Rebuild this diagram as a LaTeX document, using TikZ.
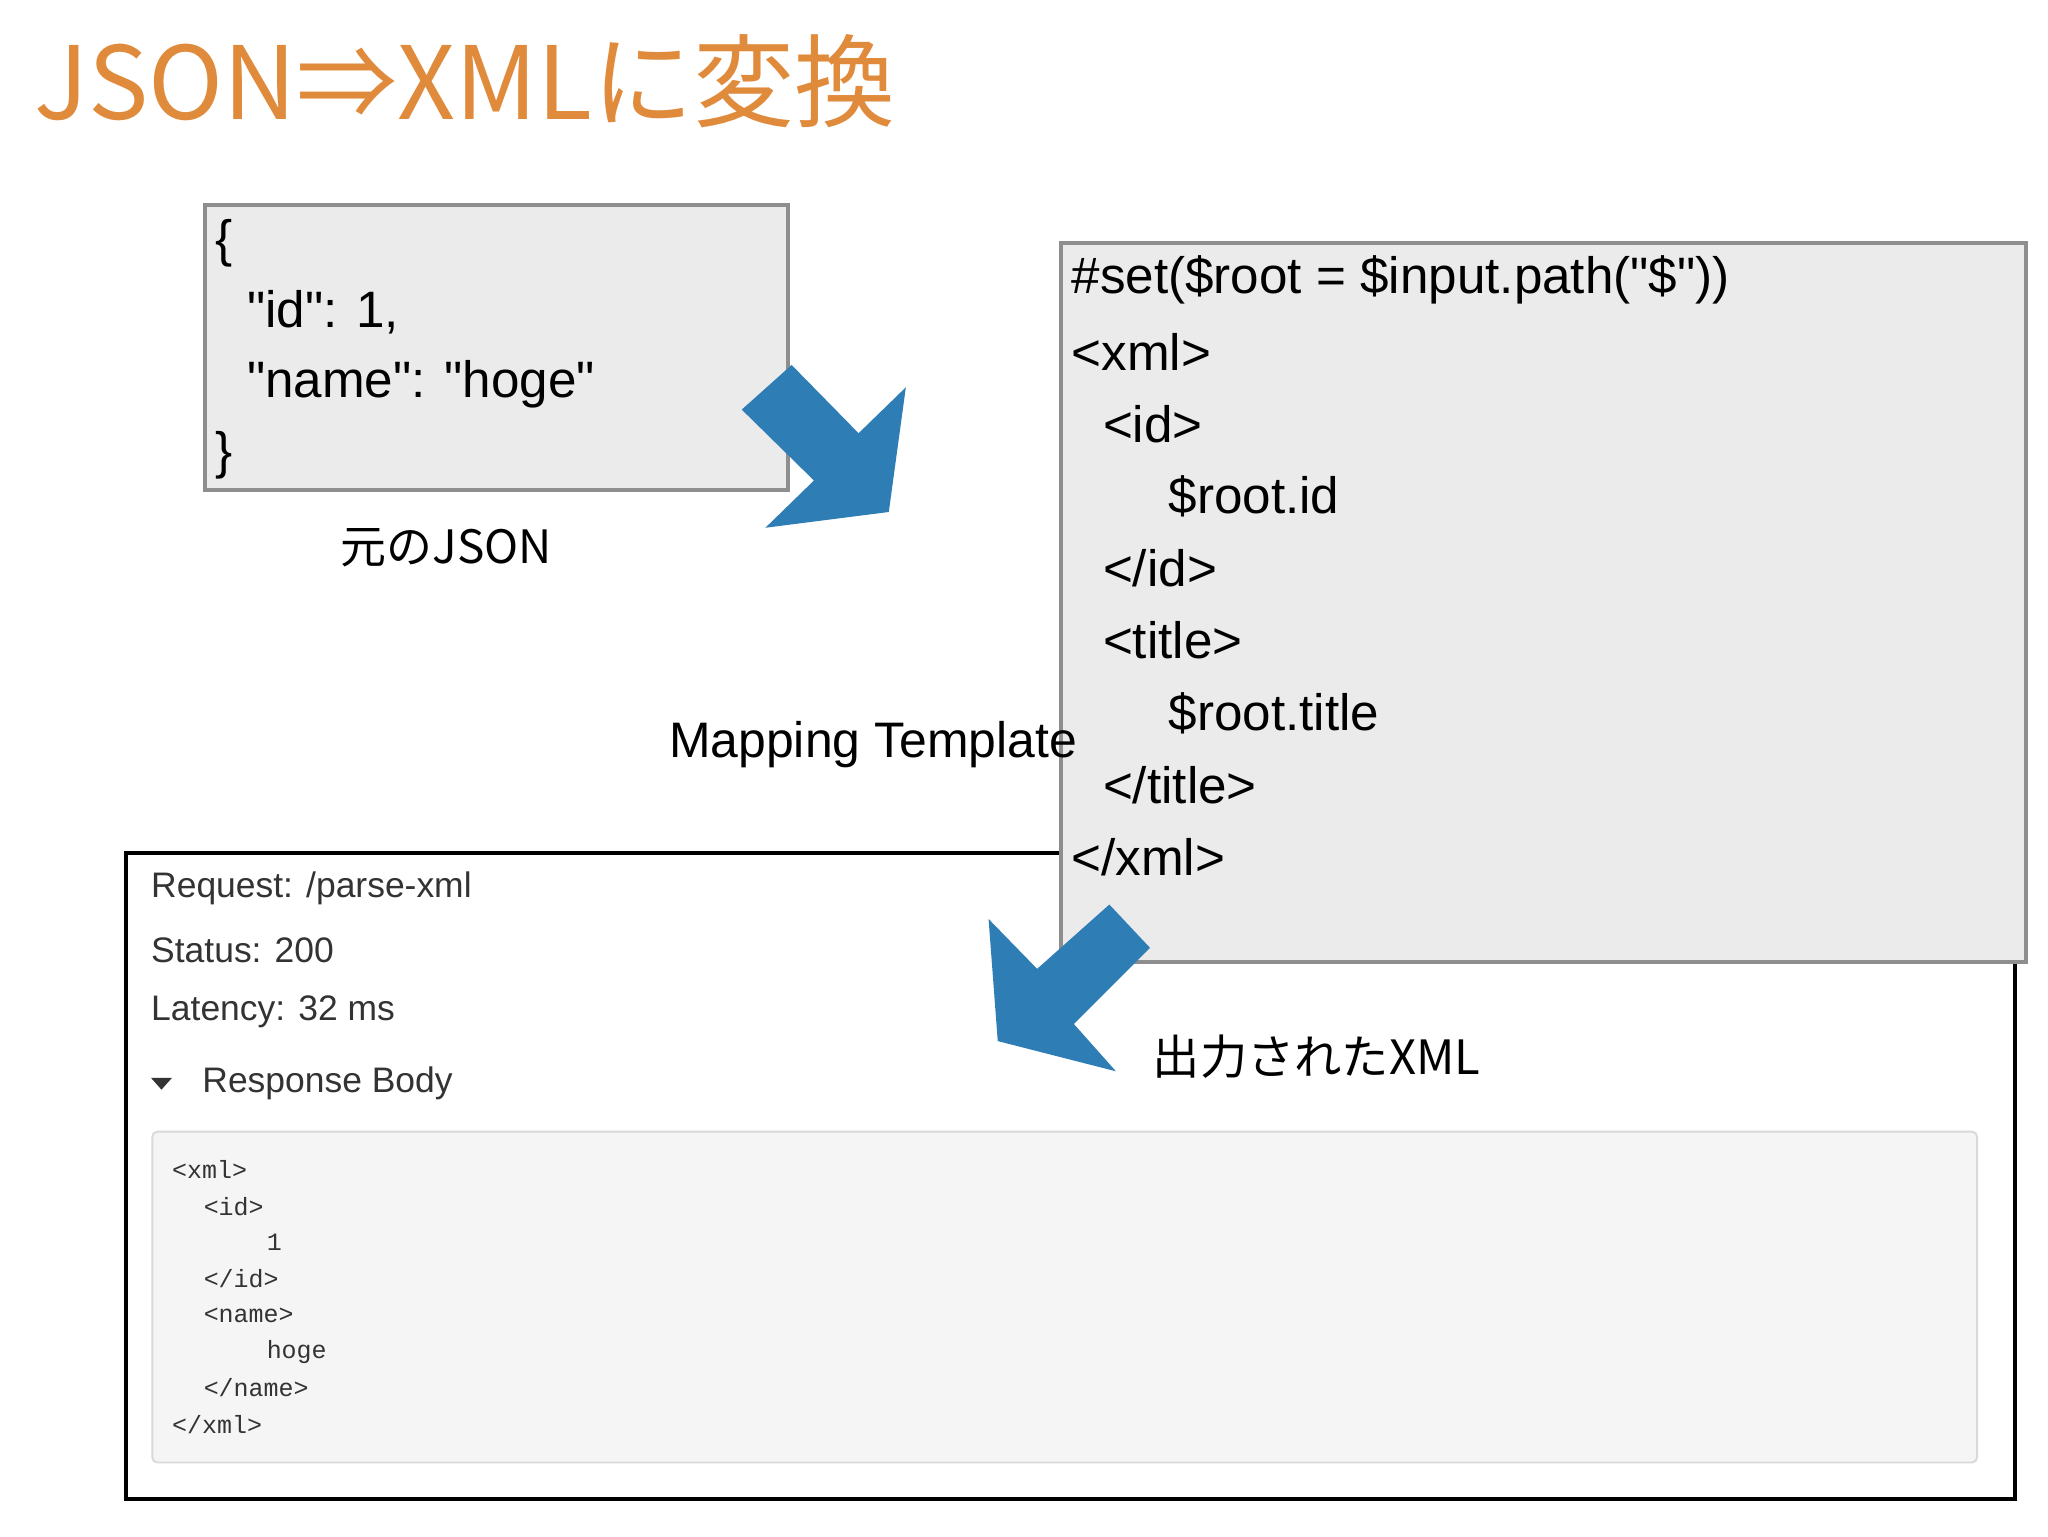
\documentclass[tikz,border=0pt]{standalone}
\usepackage{fontspec}
\setmainfont{Noto Sans CJK JP}
\newfontfamily\lsans{Liberation Sans}
\setmonofont{Liberation Mono}
\definecolor{boxfill}{HTML}{ECEBEC}
\definecolor{boxline}{HTML}{8E8E8E}
\definecolor{ttl}{HTML}{E08A3C}
\definecolor{arr}{HTML}{2E7DB5}
\definecolor{codebg}{HTML}{F5F5F5}
\definecolor{txtgray}{HTML}{333333}
\tikzset{
  big/.style={anchor=west,inner sep=0pt,font=\lsans\fontsize{39}{42}\selectfont},
  bigcjk/.style={anchor=west,inner sep=0pt,font=\fontsize{36}{40}\selectfont},
  resp/.style={anchor=west,inner sep=0pt,text=txtgray,font=\lsans\fontsize{27}{30}\selectfont},
  code/.style={anchor=west,inner sep=0pt,text=txtgray,font=\ttfamily\fontsize{19}{22}\selectfont},
  graybox/.style={draw=boxline,fill=boxfill,line width=3pt},
  bluearrow/.style={fill=arr,draw=none}
}
\begin{document}
\begin{tikzpicture}[x=1pt,y=-1pt]
\useasboundingbox (0,0) rectangle (1560,1170);
\node[anchor=west,inner sep=0pt,text=ttl,font=\fontsize{77}{84}\selectfont] (title) at (26,62) {JSON⇒XMLに変換};
% JSON box
\draw[graybox] (156,156) rectangle (600,373);
\node[big] (j1) at (164,185) {\{};
\node[big] (j2) at (188,238) {"id": 1,};
\node[big] (j3) at (188,293) {"name": "hoge"};
\node[big] (j4) at (164,347) {\}};
\node[inner sep=0pt,font=\fontsize{35}{40}\selectfont] (jlabel) at (340,417) {元のJSON};
% arrow 1
\fill[bluearrow] (565,312) -- (603,278) -- (654,330) -- (690,295) -- (677,390) -- (583,402) -- (620,366) -- cycle;
% output box
\draw[line width=3pt,fill=white] (96,650) rectangle (1535,1142);
\node[resp] (r1) at (115,677) {Request: /parse-xml};
\node[resp] (r2) at (115,724) {Status: 200};
\node[resp] (r3) at (115,771) {Latency: 32 ms};
\fill[txtgray] (115,821) -- (131,821) -- (123,830) -- cycle;
\node[resp] (r4) at (154,825) {Response Body};
\draw[draw=black!15,fill=codebg,rounded corners=4pt,line width=1.5pt] (116,862) rectangle (1506,1114);
\node[code] (c1) at (131,891) {<xml>};
\node[code] (c2) at (155,919) {<id>};
\node[code] (c3) at (203,946) {1};
\node[code] (c4) at (155,974) {</id>};
\node[code] (c5) at (155,1002) {<name>};
\node[code] (c6) at (203,1030) {hoge};
\node[code] (c7) at (155,1057) {</name>};
\node[code] (c8) at (131,1085) {</xml>};
% template box
\draw[graybox] (808,185) rectangle (1543,733);
\node[big] (t1) at (816,213) {\#set(\$root = \$input.path("\$"))};
\node[big] (t2) at (816,268) {<xml>};
\node[big] (t3) at (840,323) {<id>};
\node[big] (t4) at (890,378) {\$root.id};
\node[big] (t5) at (840,433) {</id>};
\node[big] (t6) at (840,488) {<title>};
\node[big] (t7) at (890,543) {\$root.title};
\node[big] (t8) at (840,598) {</title>};
\node[big] (t9) at (816,653) {</xml>};
\node[inner sep=0pt,font=\lsans\fontsize{38}{40}\selectfont] (mlabel) at (665,567) {Mapping Template};
% arrow 2
\fill[bluearrow] (876,722) -- (845,689) -- (790,738) -- (753,700) -- (760,793) -- (850,816) -- (818,780) -- cycle;
\node[bigcjk] (olabel) at (878,805) {出力されたXML};
\end{tikzpicture}
\end{document}
